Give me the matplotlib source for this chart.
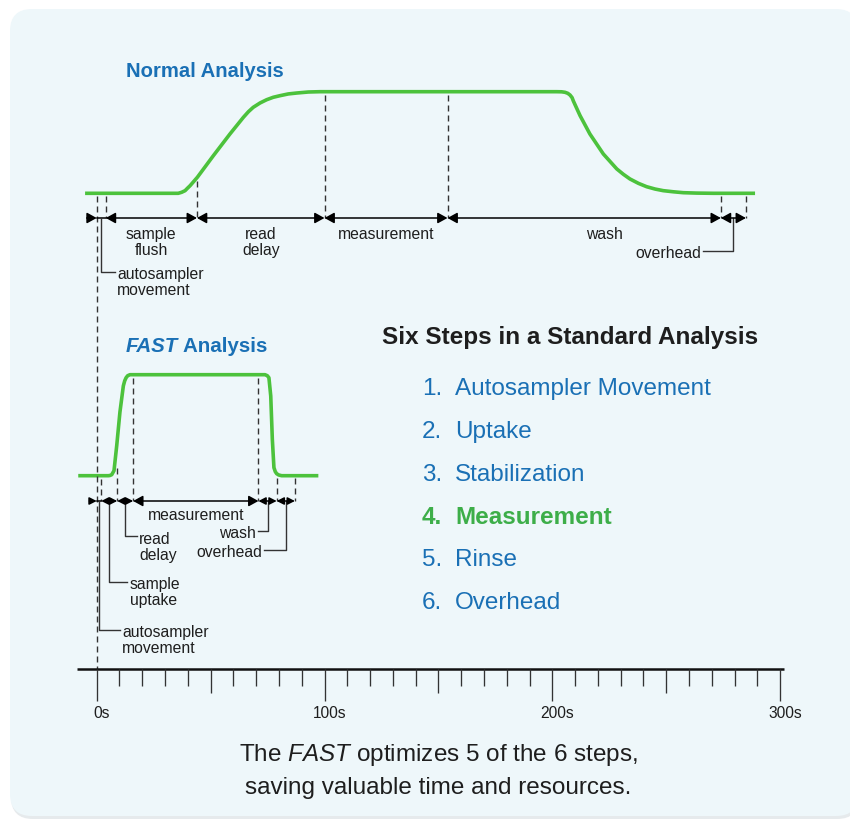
import numpy as np
import matplotlib.pyplot as plt
from matplotlib.patches import FancyBboxPatch, ArrowStyle
from matplotlib.transforms import offset_copy

plt.rcParams['font.family'] = ['Liberation Sans', 'DejaVu Sans']
plt.rcParams['mathtext.fontset'] = 'custom'
plt.rcParams['mathtext.rm'] = 'Liberation Sans'
plt.rcParams['mathtext.it'] = 'Liberation Sans:italic'
plt.rcParams['mathtext.bf'] = 'Liberation Sans:bold'

# ---- data -------------------------------------------------------------
# time axis (seconds)
tick_times = np.arange(0, 301, 10)
label_times = [0, 100, 200, 300]

# normal analysis signal: time (s) and relative level (0 = baseline, 1 = plateau)
normal_t = [-5.1, 35.8, 37.3, 38.8, 39.8, 41.0, 44.2, 51.2, 58.5, 64.4, 66.6, 68.7,
            71.7, 74.6, 77.5, 80.5, 84.1, 87.8, 92.9, 98.0,
            201.9, 204.1, 205.6, 206.8, 207.8, 208.7, 209.2, 210.7, 212.2, 216.5,
            222.4, 228.3, 231.2, 234.1, 237.8, 241.4, 245.1, 248.7, 253.1, 257.5,
            263.4, 270.7, 289.0]
normal_lvl = [0, 0, 0.010, 0.026, 0.049, 0.075, 0.158, 0.370, 0.584, 0.748, 0.803, 0.846,
              0.889, 0.921, 0.945, 0.961, 0.978, 0.987, 0.997, 1.0,
              1.0, 0.999, 0.994, 0.984, 0.967, 0.941, 0.911, 0.837, 0.764, 0.584,
              0.387, 0.240, 0.187, 0.141, 0.098, 0.065, 0.042, 0.026, 0.015, 0.006,
              0.002, 0, 0]
normal_edges = [0, 4, 44, 100, 154, 274, 285]
normal_names = ['autosampler\nmovement', 'sample\nflush', 'read\ndelay',
                'measurement', 'wash', 'overhead']

# FAST analysis signal
fast_t = [-8.1, 5.1, 5.8, 6.6, 7.6, 8.8, 10.2, 11.7, 12.3, 12.9, 13.6, 14.6,
          73.9, 74.9, 75.6, 76.4, 77.1, 77.8, 78.4, 79.0, 79.9, 81.2, 97.3]
fast_lvl = [0, 0, 0.002, 0.01, 0.05, 0.30, 0.63, 0.89, 0.94, 0.97, 0.99, 1.0,
            1.0, 0.99, 0.97, 0.79, 0.36, 0.08, 0.04, 0.02, 0.007, 0, 0]
fast_edges = [0, 2, 9, 16, 71, 79, 87]
fast_names = ['autosampler\nmovement', 'sample\nuptake', 'read\ndelay',
              'measurement', 'wash', 'overhead']

steps = ['Autosampler Movement', 'Uptake', 'Stabilization', 'Measurement', 'Rinse', 'Overhead']
highlight_step = 3

# ---- style / layout ---------------------------------------------------
GREEN = '#4cc23c'
BLUE = '#1a70b5'
STEP_GREEN = '#3dae49'
INK = '#1e1e1e'
DASH = '#333333'
BG = '#eef7fa'

X0, PX = 96.7, 2.278          # pixel of 0s, pixels per second
N_BASE, N_TOP, N_ARROW = 194.3, 92.7, 219
F_BASE, F_TOP, F_ARROW = 476.7, 375.7, 502
AXIS_Y = 670
LBL = 11.3
LINE = 16.3
DY_S = 1.8      # optical shift for small text
DY_L = 2.6      # optical shift for large text

fig = plt.figure(figsize=(8.5, 8.2), dpi=100)

# background panel in pixel coordinates
bg = fig.add_axes([0, 0, 1, 1])
bg.set_xlim(0, 850)
bg.set_ylim(820, 0)
bg.axis('off')
bg.add_patch(FancyBboxPatch((11, 12), 848, 808, boxstyle='round,pad=0,rounding_size=22',
                            fc='#e6eaec', ec='none'))
bg.add_patch(FancyBboxPatch((10, 10), 848, 807, boxstyle='round,pad=0,rounding_size=22',
                            fc=BG, ec='none'))

# timeline axes: x in seconds, y in pixels from top
ax = fig.add_axes([0, 0, 1, 1])
ax.patch.set_alpha(0)
ax.set_xlim(-X0 / PX, (850 - X0) / PX)
ax.set_ylim(820, 0)
ax.axis('off')


def arrow(t0, t1, y, hl, hw, style='<|-|>'):
    ax.annotate('', xy=(t1, y), xytext=(t0, y),
                arrowprops=dict(arrowstyle=ArrowStyle(style, head_length=hl, head_width=hw),
                                color='black', lw=1.1, shrinkA=0, shrinkB=0,
                                mutation_scale=10))


def label(t, y, text, ha):
    for i, line in enumerate(text.split('\n')):
        ax.text(t, y + i * LINE + DY_S, line, ha=ha, va='center', fontsize=LBL, color=INK)


def leader(t, y_from, y_to, dx, text):
    ax.plot([t, t, t + dx], [y_from, y_to, y_to], color=DASH, lw=1.0)
    if dx > 0:
        label(t + dx + 1.0, y_to, text, 'left')
    else:
        label(t + dx - 1.0, y_to, text, 'right')


# ---- curves -----------------------------------------------------------
nl = np.array(normal_lvl)
fl = np.array(fast_lvl)
ax.plot(normal_t, N_BASE - (N_BASE - N_TOP) * nl, color=GREEN, lw=2.6,
        solid_joinstyle='round', solid_capstyle='butt')
ax.plot(fast_t, F_BASE - (F_BASE - F_TOP) * fl, color=GREEN, lw=2.6,
        solid_joinstyle='round', solid_capstyle='butt')

# ---- dashed step boundaries --------------------------------------------
dash_style = (0, (4.3, 2.9))
normal_tops = [197, 197, 182, 96, 96, 197, 197]
for i, (t, top) in enumerate(zip(normal_edges, normal_tops)):
    bottom = AXIS_Y if i == 0 else N_ARROW
    ax.plot([t, t], [top, bottom], color=DASH, lw=1.0, linestyle=dash_style)
fast_tops = [480, 469, 379, 379, 479, 479]
for t, top in zip(fast_edges[1:], fast_tops):
    ax.plot([t, t], [top, F_ARROW], color=DASH, lw=1.0, linestyle=dash_style)

# ---- normal analysis arrows and labels -------------------------------
arrow(normal_edges[0] - 4.4, normal_edges[0], N_ARROW, 0.58, 0.32, '-|>')
ax.plot(normal_edges[:2], [N_ARROW, N_ARROW], color='black', lw=1.1)
for a, b in zip(normal_edges[1:-1], normal_edges[2:]):
    arrow(a, b, N_ARROW, 0.58, 0.32)

label((normal_edges[1] + normal_edges[2]) / 2, 232.5, normal_names[1], 'center')
label((normal_edges[2] + normal_edges[3]) / 2, 232.5, normal_names[2], 'center')
label((normal_edges[3] + normal_edges[4]) / 2, 232.5, normal_names[3], 'center')
label(223, 232.5, normal_names[4], 'center')
leader((normal_edges[0] + normal_edges[1]) / 2, N_ARROW, 272.7, 6.0, normal_names[0])
leader((normal_edges[5] + normal_edges[6]) / 2, N_ARROW, 252, -13.3, normal_names[5])

# ---- FAST analysis arrows and labels ---------------------------------
arrow(fast_edges[0] - 3.2, fast_edges[0], F_ARROW, 0.43, 0.22, '-|>')
ax.plot(fast_edges[:2], [F_ARROW, F_ARROW], color='black', lw=1.1)
for i, (a, b) in enumerate(zip(fast_edges[1:-1], fast_edges[2:])):
    if i == 2:
        arrow(a, b, F_ARROW, 0.58, 0.32)
    else:
        arrow(a, b, F_ARROW, 0.43, 0.22)

label((fast_edges[3] + fast_edges[4]) / 2, 513.3, fast_names[3], 'center')
fast_leaders = [(0, 630.7, 9.2), (1, 582.7, 7.9), (2, 537.3, 5.1), (4, 531.7, -4.0), (5, 550.7, -9.5)]
for idx, y, dx in fast_leaders:
    leader((fast_edges[idx] + fast_edges[idx + 1]) / 2, F_ARROW, y, dx, fast_names[idx])

# ---- time axis --------------------------------------------------------
ax.plot([-8.6, 301.7], [AXIS_Y, AXIS_Y], color='#111111', lw=1.8, solid_capstyle='butt')
tick_len = np.where(tick_times % 100 == 0, 32, np.where(tick_times % 50 == 0, 24, 17))
ax.vlines(tick_times, AXIS_Y, AXIS_Y + tick_len, color='#333333', lw=0.95)
lbl_tr = offset_copy(ax.transData, fig=fig, x=3.6, y=0, units='points')
for t in label_times:
    ax.text(t, 712 + DY_S, f'{t}s', ha='center', va='center', fontsize=11.2, color=INK,
            transform=lbl_tr)

# ---- titles and step list ----------------------------------------------
bg.text(126, 70 + DY_S, 'Normal Analysis', fontsize=14.6, weight='bold', color=BLUE,
        ha='left', va='center')
fast_word = bg.text(126, 345 + DY_S, 'FAST', fontsize=14.8, weight='bold', style='italic',
                    color=BLUE, ha='left', va='center')
bg.annotate(' Analysis', xy=(1, 0), xycoords=fast_word, fontsize=14.8, weight='bold',
            color=BLUE, ha='left', va='bottom')

bg.text(381.7, 335 + DY_L, 'Six Steps in a Standard Analysis', fontsize=17.5, weight='bold',
        color=INK, ha='left', va='center')
for i, step in enumerate(steps):
    y = 386.7 + i * 42.65 + DY_L
    hi = i == highlight_step
    col = STEP_GREEN if hi else BLUE
    w = 'bold' if hi else 'normal'
    bg.text(421.7, y, f'{i + 1}.', fontsize=17.5, color=col, weight=w, ha='left', va='center')
    bg.text(455, y, step, fontsize=17.5, color=col, weight=w, ha='left', va='center')

bg.text(438, 752 + DY_L, r'The $\mathit{FAST}$ optimizes 5 of the 6 steps,', fontsize=17.5,
        color=INK, ha='center', va='center')
bg.text(438, 785 + DY_L, 'saving valuable time and resources.', fontsize=17.5,
        color=INK, ha='center', va='center')

fig.savefig('out.png', dpi=100, facecolor='white')
